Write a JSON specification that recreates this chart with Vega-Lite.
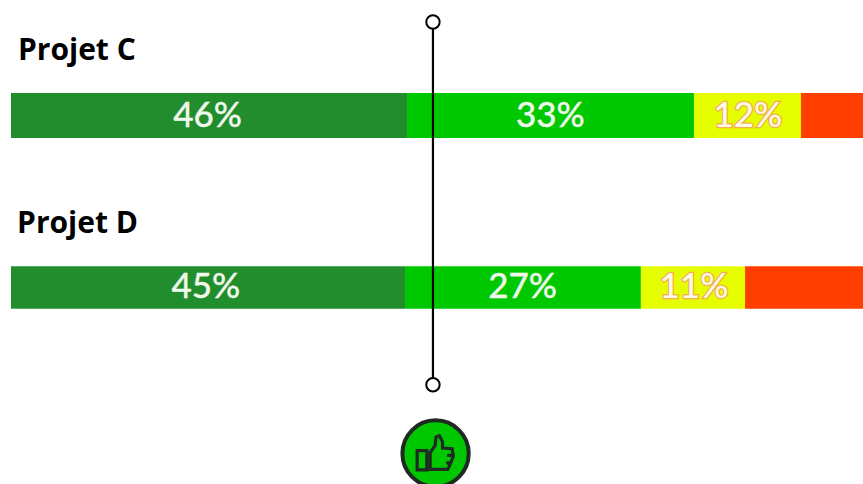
{"$schema":"https://vega.github.io/schema/vega-lite/v6.json","autosize":{"type":"none"},"padding":0,"width":863,"height":484,"background":"white","view":{"stroke":null},
"datasets":{
"bars":[
{"projet":"Projet C","cat":"a","label":"46%","start":0,"end":45.52,"mid":22.6,"ly":24,"top":19.2,"bottom":28.5,"lc":"plain"},
{"projet":"Projet C","cat":"b","label":"33%","start":45.52,"end":78.5,"mid":62,"ly":24,"top":19.2,"bottom":28.5,"lc":"plain"},
{"projet":"Projet C","cat":"c","label":"12%","start":78.5,"end":90.8,"mid":84.7,"ly":24,"top":19.2,"bottom":28.5,"lc":"outline"},
{"projet":"Projet C","cat":"d","label":"","start":90.8,"end":100,"ly":24,"top":19.2,"bottom":28.5,"lc":"none"},
{"projet":"Projet D","cat":"a","label":"45%","start":0,"end":45.29,"mid":22.4,"ly":59.4,"top":55,"bottom":63.8,"lc":"plain"},
{"projet":"Projet D","cat":"b","label":"27%","start":45.29,"end":72.4,"mid":58.8,"ly":59.4,"top":55,"bottom":63.8,"lc":"plain"},
{"projet":"Projet D","cat":"c","label":"11%","start":72.4,"end":84.37,"mid":78.5,"ly":59.4,"top":55,"bottom":63.8,"lc":"outline"},
{"projet":"Projet D","cat":"d","label":"","start":84.37,"end":100,"ly":59.4,"top":55,"bottom":63.8,"lc":"none"}],
"titles":[{"projet":"Projet C","x":0.8,"y":12.4},{"projet":"Projet D","x":0.7,"y":48.1}],
"target":[{"x":48.5,"y":4.55,"y2":79.5}],
"ends":[{"x":48.5,"y":4.55},{"x":48.5,"y":79.5}],
"badge":[{"x":48.8,"y":93.7}]},
"encoding":{},
"layer":[
{"data":{"name":"bars"},"mark":{"type":"rect","clip":true},"encoding":{
"x":{"field":"start","type":"quantitative","scale":{"domain":[-1.264,97.93],"nice":false,"zero":false},"axis":null},
"x2":{"field":"end"},
"y":{"field":"top","type":"quantitative","scale":{"domain":[0,100],"reverse":true,"nice":false,"zero":false},"axis":null},
"y2":{"field":"bottom"},
"color":{"field":"cat","type":"nominal","scale":{"domain":["a","b","c","d"],"range":["#228D2D","#00C800","#E6FF00","#FF3E00"]},"legend":null}}},
{"data":{"name":"bars"},"transform":[{"filter":"datum.lc==='plain'"}],"mark":{"type":"text","font":"Lato","fontSize":35,"fontWeight":500,"color":"#F0F8EC","stroke":"#F0F8EC","strokeWidth":0.3,"baseline":"middle","align":"center"},"encoding":{
"x":{"field":"mid","type":"quantitative"},"y":{"field":"ly","type":"quantitative"},"text":{"field":"label"}}},
{"data":{"name":"bars"},"transform":[{"filter":"datum.lc==='outline'"}],"mark":{"type":"text","font":"Lato","fontSize":35,"fontWeight":500,"color":"#F2B04A","stroke":"#F2B04A","strokeWidth":2.6,"baseline":"middle","align":"center"},"encoding":{
"x":{"field":"mid","type":"quantitative"},"y":{"field":"ly","type":"quantitative"},"text":{"field":"label"}}},
{"data":{"name":"bars"},"transform":[{"filter":"datum.lc==='outline'"}],"mark":{"type":"text","font":"Lato","fontSize":35,"fontWeight":500,"color":"#FFFBE6","baseline":"middle","align":"center"},"encoding":{
"x":{"field":"mid","type":"quantitative"},"y":{"field":"ly","type":"quantitative"},"text":{"field":"label"}}},
{"data":{"name":"titles"},"mark":{"type":"text","font":"Open Sans","fontSize":30,"fontWeight":700,"color":"#000000","align":"left","baseline":"alphabetic"},"encoding":{
"x":{"field":"x","type":"quantitative"},"y":{"field":"y","type":"quantitative"},"text":{"field":"projet"}}},
{"data":{"name":"target"},"mark":{"type":"rule","color":"#000000","strokeWidth":2.2},"encoding":{
"x":{"field":"x","type":"quantitative"},"y":{"field":"y","type":"quantitative"},"y2":{"field":"y2"}}},
{"data":{"name":"ends"},"mark":{"type":"point","filled":false,"fill":"white","fillOpacity":1,"stroke":"#000000","strokeWidth":2,"size":180,"opacity":1},"encoding":{
"x":{"field":"x","type":"quantitative"},"y":{"field":"y","type":"quantitative"}}},
{"data":{"name":"badge"},"mark":{"type":"point","shape":"circle","fill":"#00C800","fillOpacity":1,"stroke":"#1F2A22","strokeWidth":4,"size":4400,"opacity":1},"encoding":{
"x":{"field":"x","type":"quantitative"},"y":{"field":"y","type":"quantitative"}}},
{"data":{"name":"badge"},"mark":{"type":"point","shape":"M-0.95,-0.15L-0.45,-0.15L-0.45,0.85L-0.95,0.85ZM-0.28,-0.05L-0.02,-0.42L0.02,-0.85L0.2,-0.92L0.36,-0.6L0.36,-0.28L0.85,-0.25L0.92,0.13L0.78,0.5L0.63,0.82L-0.28,0.82ZM0.9,0.1L0.6,0.1M0.8,0.48L0.55,0.48","fill":"#00C800","fillOpacity":1,"stroke":"#1F2A22","strokeWidth":3.2,"size":1500,"opacity":1},"encoding":{
"x":{"field":"x","type":"quantitative"},"y":{"field":"y","type":"quantitative"}}}
],
"config":{"style":{"cell":{"stroke":null}}}}
